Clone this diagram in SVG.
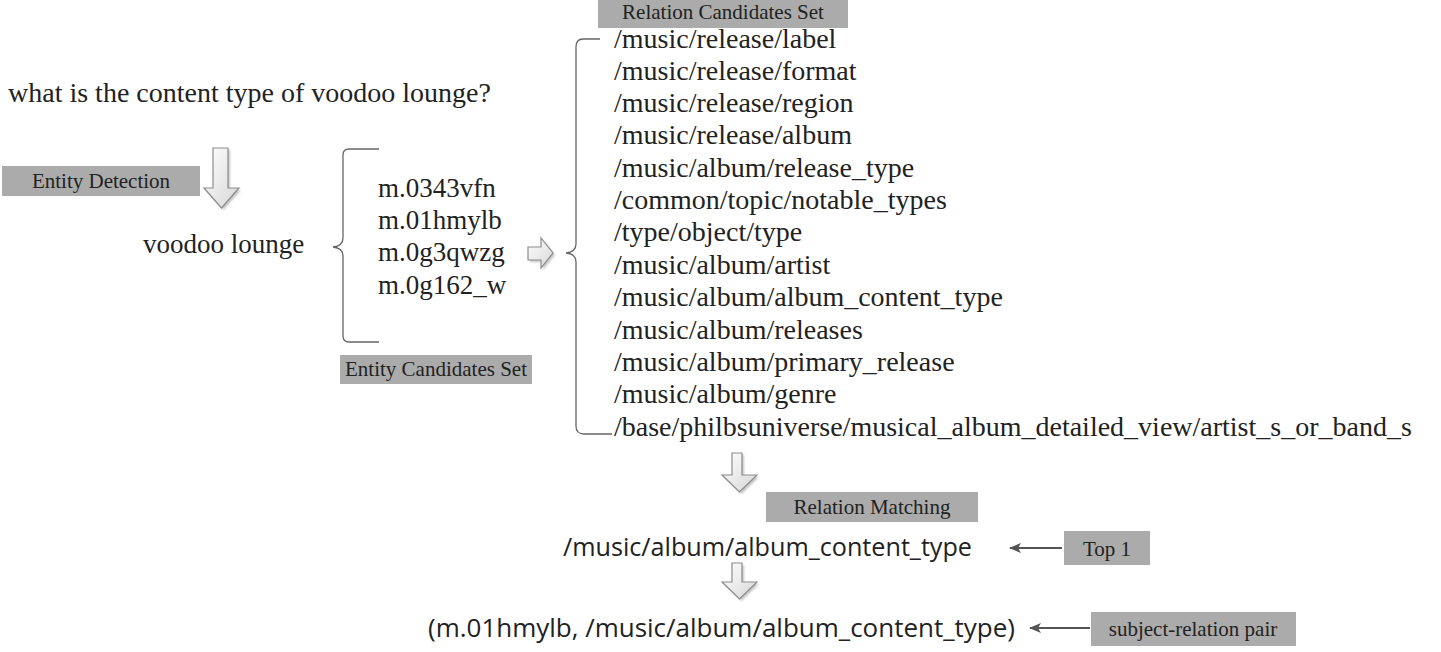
<svg xmlns="http://www.w3.org/2000/svg" width="1441" height="652" viewBox="0 0 1441 652">
  <style>
    .serif { font-family: "Liberation Serif", "Times New Roman", serif; fill: #222; }
    .sans { font-family: "Open Sans", "Noto Sans", sans-serif; fill: #222; }
    .tag { fill: #ababab; }
    .tagtext { font-family: "Liberation Serif", "Times New Roman", serif; fill: #222; font-size: 21px; text-anchor: middle; }
    .brace { fill: none; stroke: #666; stroke-width: 1.3; }
    .block { fill: url(#blockFill); stroke: #8c8c8c; stroke-width: 1.2; stroke-linejoin: miter; }
    .shadow { fill: #c4c4c4; filter: url(#soft); }
    .pointer { stroke: #555; stroke-width: 2.2; fill: none; marker-end: url(#head); }
  </style>
  <defs>
    <linearGradient id="blockFill" x1="0" y1="0" x2="1" y2="1">
      <stop offset="0" stop-color="#ffffff"/>
      <stop offset="1" stop-color="#d6d6d6"/>
    </linearGradient>
    <filter id="soft" x="-20%" y="-20%" width="140%" height="140%">
      <feGaussianBlur stdDeviation="1"/>
    </filter>
    <marker id="head" markerWidth="12" markerHeight="10" refX="11" refY="5" orient="auto" markerUnits="userSpaceOnUse">
      <path d="M0,0 L12,5 L0,10 L3,5 Z" fill="#555"/>
    </marker>
  </defs>

  <!-- question -->
  <g id="question">
    <text class="serif" x="8" y="102" font-size="28">what is the content type of voodoo lounge?</text>
  </g>

  <!-- entity detection step -->
  <g id="entity-detection">
    <rect class="tag" x="2" y="166" width="198" height="30"/>
    <text class="tagtext" x="101" y="188">Entity Detection</text>
  </g>
  <g id="arrow-detect">
    <path class="shadow" d="M215,150 H230 V190 H241 L223.5,210 L206,190 H215 Z"/>
    <path class="block" d="M213,148 H228 V188 H239 L221.5,208 L204,188 H213 Z"/>
  </g>

  <!-- detected mention -->
  <g id="mention">
    <text class="serif" x="143" y="253" font-size="27">voodoo lounge</text>
  </g>

  <!-- entity candidates -->
  <g id="entity-candidates">
    <path class="brace" d="M379,149 H349 Q343,149 343,155 V238 Q343,246 333,247 Q343,248 343,256 V336 Q343,342 349,342 H379"/>
    <text class="serif" font-size="27">
      <tspan x="378" y="197">m.0343vfn</tspan>
      <tspan x="378" y="229">m.01hmylb</tspan>
      <tspan x="378" y="261">m.0g3qwzg</tspan>
      <tspan x="378" y="294">m.0g162_w</tspan>
    </text>
  </g>
  <g id="entity-candidates-label">
    <rect class="tag" x="340" y="355" width="192" height="29"/>
    <text class="tagtext" x="436" y="376">Entity Candidates Set</text>
  </g>

  <!-- entity to relation arrow -->
  <g id="arrow-expand">
    <path class="shadow" d="M530,249 H543 V240 L555,255 L543,270 V262 H530 Z"/>
    <path class="block" d="M528,247 H541 V238 L553,253 L541,268 V260 H528 Z"/>
  </g>

  <!-- relation candidates -->
  <g id="relation-candidates-label">
    <rect class="tag" x="598" y="0" width="250" height="28"/>
    <text class="tagtext" x="723" y="18.5">Relation Candidates Set</text>
  </g>
  <g id="relation-candidates">
    <path class="brace" d="M600,39 H583 Q576,39 576,47 V244 Q576,252 566,253 Q576,254 576,262 V426 Q576,434 584,434 H612"/>
    <text class="serif" font-size="28">
      <tspan x="614" y="48">/music/release/label</tspan>
      <tspan x="614" y="80">/music/release/format</tspan>
      <tspan x="614" y="112">/music/release/region</tspan>
      <tspan x="614" y="144">/music/release/album</tspan>
      <tspan x="614" y="177">/music/album/release_type</tspan>
      <tspan x="614" y="209">/common/topic/notable_types</tspan>
      <tspan x="614" y="241">/type/object/type</tspan>
      <tspan x="614" y="274">/music/album/artist</tspan>
      <tspan x="614" y="306">/music/album/album_content_type</tspan>
      <tspan x="614" y="339">/music/album/releases</tspan>
      <tspan x="614" y="371">/music/album/primary_release</tspan>
      <tspan x="614" y="403">/music/album/genre</tspan>
      <tspan x="614" y="436">/base/philbsuniverse/musical_album_detailed_view/artist_s_or_band_s</tspan>
    </text>
  </g>

  <!-- relation matching step -->
  <g id="arrow-match">
    <path class="shadow" d="M734,455 H744 V477 H759 L741.5,494 L724,477 H734 Z"/>
    <path class="block" d="M732,453 H742 V475 H757 L739.5,492 L722,475 H732 Z"/>
  </g>
  <g id="relation-matching-label">
    <rect class="tag" x="766" y="492" width="212" height="30"/>
    <text class="tagtext" x="872" y="514">Relation Matching</text>
  </g>

  <!-- top relation -->
  <g id="top-relation">
    <text class="sans" x="563" y="556" font-size="25" textLength="409" lengthAdjust="spacingAndGlyphs">/music/album/album_content_type</text>
  </g>
  <g id="top1-label">
    <rect class="tag" x="1064" y="531" width="86" height="34"/>
    <text class="tagtext" x="1107" y="556" font-size="22">Top 1</text>
  </g>

  <g id="arrow-pair">
    <path class="shadow" d="M734,565 H744 V584 H759 L741.5,601 L724,584 H734 Z"/>
    <path class="block" d="M732,563 H742 V582 H757 L739.5,599 L722,582 H732 Z"/>
  </g>

  <!-- final pair -->
  <g id="subject-relation">
    <text class="sans" x="428" y="637" font-size="25" textLength="587" lengthAdjust="spacingAndGlyphs">(m.01hmylb, /music/album/album_content_type)</text>
  </g>
  <g id="pair-label">
    <rect class="tag" x="1091" y="612" width="205" height="34"/>
    <text class="tagtext" x="1193" y="636">subject-relation pair</text>
  </g>

  <!-- pointers from labels -->
  <g id="connectors">
    <line class="pointer" x1="1062" y1="548" x2="1010" y2="548"/>
    <line class="pointer" x1="1090" y1="628" x2="1030" y2="628"/>
  </g>
</svg>
